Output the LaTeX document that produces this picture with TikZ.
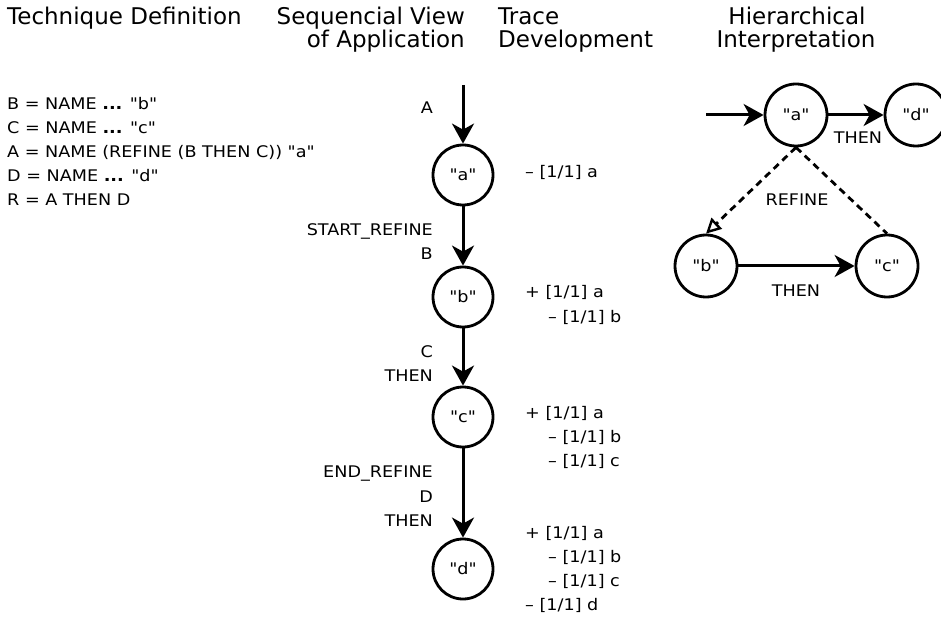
\documentclass[tikz,border=0pt]{standalone}
\usepackage{fontspec}
\setmainfont{DejaVu Sans}
\newfontfamily\smallf[FakeStretch=1.1]{DejaVu Sans}
\usetikzlibrary{arrows.meta}
\begin{document}
\begin{tikzpicture}[x=1pt,y=-1pt,
  hd/.style={font=\fontsize{23}{22}\selectfont, inner sep=0pt},
  lbl/.style={font=\smallf\fontsize{16}{24}\selectfont, inner sep=0pt},
  circ/.style={circle, draw, line width=2.8pt, minimum size=60pt, inner sep=0pt, font=\smallf\fontsize{16}{24}\selectfont},
  rcirc/.style={circ, minimum size=62pt},
  arr/.style={line width=3pt, -{Stealth[length=20pt,width=22pt,inset=6pt]}},
  dsh/.style={line width=2.8pt, dash pattern=on 7pt off 5pt}
]
\useasboundingbox (0,0) rectangle (941,617);

% headings
\node[hd, anchor=base west] (h1) at (7,25) {Technique Definition};
\node[hd, anchor=base east] (h2a) at (465,25) {Sequencial View};
\node[hd, anchor=base east] (h2b) at (465,48) {of Application};
\node[hd, anchor=base west] (h3a) at (498,25) {Trace};
\node[hd, anchor=base west] (h3b) at (498,48) {Development};
\node[hd, anchor=base] (h4a) at (797,25) {Hierarchical};
\node[hd, anchor=base] (h4b) at (796,48) {Interpretation};

% definitions
\node[lbl, anchor=base west] (d1) at (7,110) {B = NAME {\bfseries ...} "b"};
\node[lbl, anchor=base west] (d2) at (7,134) {C = NAME {\bfseries ...} "c"};
\node[lbl, anchor=base west] (d3) at (7,158) {A = NAME (REFINE (B THEN C)) "a"};
\node[lbl, anchor=base west] (d4) at (7,182) {D = NAME {\bfseries ...} "d"};
\node[lbl, anchor=base west] (d5) at (7,206) {R = A THEN D};

% sequential view
\coordinate (s0) at (463,85);
\node[circ] (sa) at (463,175) {"a"};
\node[circ] (sb) at (463,297) {"b"};
\node[circ] (sc) at (463,417) {"c"};
\node[circ] (sd) at (463,569) {"d"};
\draw[arr] (s0) -- (sa);
\draw[arr] (sa) -- (sb);
\draw[arr] (sb) -- (sc);
\draw[arr] (sc) -- (sd);

\node[lbl, anchor=base east] (lA) at (433,114) {A};
\node[lbl, anchor=base east] (lSR) at (433,236) {START\_REFINE};
\node[lbl, anchor=base east] (lB) at (433,260) {B};
\node[lbl, anchor=base east] (lC) at (433,357) {C};
\node[lbl, anchor=base east] (lT1) at (433,381) {THEN};
\node[lbl, anchor=base east] (lER) at (433,477) {END\_REFINE};
\node[lbl, anchor=base east] (lD) at (433,502) {D};
\node[lbl, anchor=base east] (lT2) at (433,526) {THEN};

% trace development
\node[lbl, anchor=base west] (t1) at (525,178) {– [1/1] a};
\node[lbl, anchor=base west] (t2) at (525,298) {+ [1/1] a};
\node[lbl, anchor=base west] (t3) at (548,322) {– [1/1] b};
\node[lbl, anchor=base west] (t4) at (525,418) {+ [1/1] a};
\node[lbl, anchor=base west] (t5) at (548,442) {– [1/1] b};
\node[lbl, anchor=base west] (t6) at (548,466) {– [1/1] c};
\node[lbl, anchor=base west] (t7) at (525,538) {+ [1/1] a};
\node[lbl, anchor=base west] (t8) at (548,562) {– [1/1] b};
\node[lbl, anchor=base west] (t9) at (548,586) {– [1/1] c};
\node[lbl, anchor=base west] (t10) at (525,610) {– [1/1] d};

% hierarchical interpretation
\coordinate (r0) at (706,115);
\node[rcirc] (ra) at (796,115) {"a"};
\node[rcirc] (rd) at (916,115) {"d"};
\node[rcirc] (rb) at (706,266) {"b"};
\node[rcirc] (rc) at (887,266) {"c"};
\draw[arr] (r0) -- (ra);
\draw[arr] (ra) -- (rd);
\draw[arr] (rb) -- (rc);
\draw[dsh, -{Triangle[open,length=15pt,width=15pt,line width=2.4pt]}] (ra.south) -- (rb.north);
\draw[dsh] (ra.south) -- (rc.north);
\node[lbl, anchor=base] (rt1) at (858,144) {THEN};
\node[lbl, anchor=base] (rr) at (797,206) {REFINE};
\node[lbl, anchor=base] (rt2) at (796,296) {THEN};
\end{tikzpicture}
\end{document}
